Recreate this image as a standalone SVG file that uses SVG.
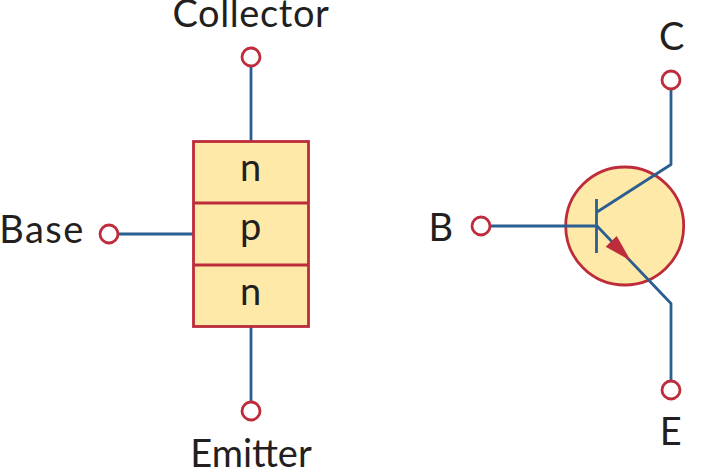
<svg xmlns="http://www.w3.org/2000/svg" width="710" height="468" viewBox="0 0 710 468">
<style>
.w{fill:none;stroke:#2b5f92;stroke-width:2.8;stroke-linejoin:round}
.t{fill:#fff;stroke:#bd2c3a;stroke-width:2.8}
.b{fill:#fee9a8;stroke:#bd2c3a;stroke-width:2.8}
text{font-family:Lato,"Liberation Sans",sans-serif;font-size:38px;letter-spacing:.6px;fill:#231f20;text-anchor:middle}
</style>
<g id="connectors">
<path class="w" d="M251 66V142"/>
<path class="w" d="M118 234H193"/>
<path class="w" d="M251 326V401"/>
</g>
<g id="npn-block">
<rect class="b" x="193.500" y="141.500" width="115" height="185"/>
<path class="b" d="M193.500 203H308.500M193.500 265H308.500"/>
<text x="251" y="181">n</text>
<text x="251" y="240">p</text>
<text x="251" y="305">n</text>
</g>
<g id="collector"><circle class="t" cx="251" cy="57" r="9"/><text x="251" y="27">Collector</text></g>
<g id="base"><circle class="t" cx="109" cy="234" r="9"/><text x="42" y="243" style="letter-spacing:1.500px">Base</text></g>
<g id="emitter"><circle class="t" cx="251" cy="411" r="9"/><text x="251" y="467" style="letter-spacing:0">Emitter</text></g>
<g id="transistor">
<circle class="b" cx="624.700" cy="226" r="59"/>
<path class="w" d="M490 226H597M596.500 199V253M597 212L671 164.500V89M597 226L671 303.500V380"/>
<path d="M605.700 246.700L616.700 236L630.700 260.700Z" fill="#bd2c3a"/>
</g>
<g id="c"><circle class="t" cx="671" cy="80" r="9"/><text x="672" y="50">C</text></g>
<g id="b"><circle class="t" cx="481" cy="226" r="9"/><text x="441" y="241">B</text></g>
<g id="e"><circle class="t" cx="671" cy="390" r="9"/><text x="671" y="445">E</text></g>
</svg>
